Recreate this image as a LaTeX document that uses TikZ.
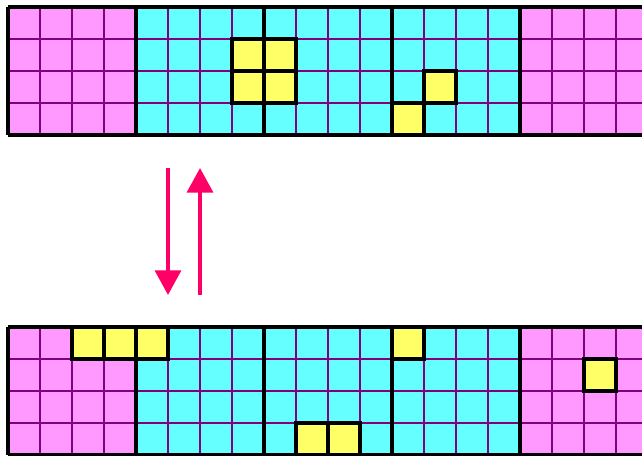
\documentclass[tikz,border=0pt]{standalone}
\usetikzlibrary{arrows.meta}
\definecolor{CellPink}{HTML}{FF99FF}
\definecolor{CellCyan}{HTML}{66FFFF}
\definecolor{CellYellow}{HTML}{FFFF66}
\definecolor{GridPurple}{HTML}{800080}
\definecolor{FlowRed}{HTML}{FF0066}

\begin{document}
\begin{tikzpicture}[x=0.5cm, y=0.5cm,
  pinkcell/.style={fill=CellPink},
  cyancell/.style={fill=CellCyan},
  cellline/.style={draw=GridPurple, line width=1.1pt, step=0.5cm},
  blockline/.style={draw=black, line width=1.6pt},
  marked/.style={fill=CellYellow, draw=black, line width=1.6pt},
  flow/.style={draw=FlowRed, line width=1.8pt, -{Triangle[width=11.5pt, length=11pt]}}
]
\useasboundingbox (-0.25,0.21875) rectangle (19.8125,-14);

%% ---- Top band (state before) ----
\fill[pinkcell] (0,0) rectangle (4,-4);
\fill[cyancell] (4,0) rectangle (16,-4);
\fill[pinkcell] (16,0) rectangle (20,-4);
\draw[cellline] (0,-4) grid (20,0);
\foreach \x in {0,4,...,20}
  \draw[blockline] (\x,0) -- (\x,-4);
\draw[blockline] (0,0) -- (20,0) (0,-4) -- (20,-4);
% yellow cells: 2x2 block and a diagonal pair
\draw[marked] (7,-1) rectangle (8,-2) (8,-1) rectangle (9,-2)
              (7,-2) rectangle (8,-3) (8,-2) rectangle (9,-3);
\draw[marked] (13,-2) rectangle (14,-3) (12,-3) rectangle (13,-4);

%% ---- Bottom band (state after) ----
\begin{scope}[yshift=-5cm]
\fill[pinkcell] (0,0) rectangle (2,-1) (0,-1) rectangle (4,-4);
\fill[cyancell] (5,0) rectangle (16,-1) (4,-1) rectangle (16,-4);
\fill[pinkcell] (16,0) rectangle (20,-4);
\draw[cellline] (0,-4) grid (20,0);
\foreach \x in {0,4,...,20}
  \draw[blockline] (\x,0) -- (\x,-4);
\draw[blockline] (0,0) -- (20,0) (0,-4) -- (20,-4);
% yellow cells spread out
\draw[marked] (2,0) rectangle (3,-1) (3,0) rectangle (4,-1) (4,0) rectangle (5,-1);
\draw[marked] (9,-3) rectangle (10,-4) (10,-3) rectangle (11,-4);
\draw[marked] (12,0) rectangle (13,-1);
\draw[marked] (18,-1) rectangle (19,-2);
\end{scope}

%% ---- Transition arrows ----
\coordinate (downtop) at (5,-5.03);
\coordinate (downend) at (5,-9);
\coordinate (uptop)   at (6,-5.03);
\coordinate (upend)   at (6,-9);
\draw[flow] (downtop) -- (downend);
\draw[flow] (upend) -- (uptop);

\end{tikzpicture}
\end{document}
